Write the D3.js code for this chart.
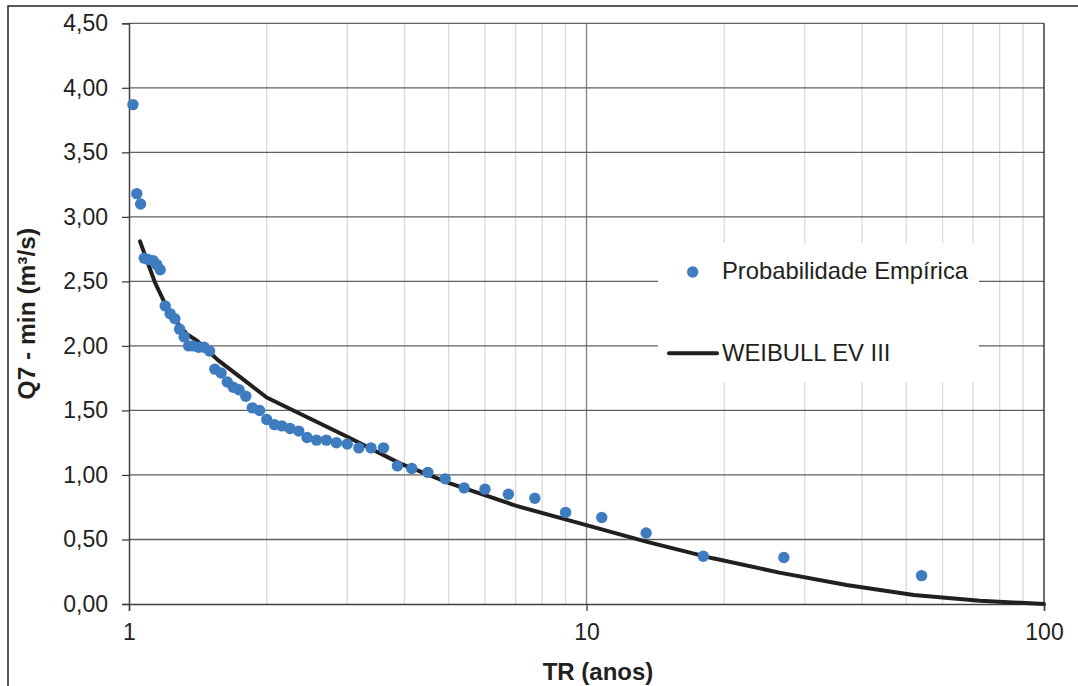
<!DOCTYPE html>
<html>
<head>
<meta charset="utf-8">
<script src="https://cdn.jsdelivr.net/npm/d3@7"></script>
<style>
  body { margin: 0; background: #fff; }
  svg { display: block; font-family: "Liberation Sans", Arial, sans-serif; }
</style>
</head>
<body>
<svg id="chart" width="1078" height="686" viewBox="0 0 1078 686"></svg>
<script>
// empirical points (TR in years, Q7-min in m3/s)
const empTR = [54, 27, 18, 13.5, 10.8, 9, 7.71, 6.75, 6, 5.4, 4.91, 4.5, 4.15, 3.86, 3.6, 3.38, 3.18, 3,
    2.84, 2.7, 2.57, 2.45, 2.35, 2.25, 2.16, 2.08, 2, 1.93, 1.86, 1.8, 1.74, 1.69, 1.64, 1.59, 1.54, 1.5,
    1.46, 1.42, 1.38, 1.35, 1.32, 1.29, 1.26, 1.23, 1.2, 1.17, 1.15, 1.13, 1.1, 1.08, 1.06, 1.04, 1.02];
const empQ = [0.22, 0.36, 0.37, 0.55, 0.67, 0.71, 0.82, 0.85, 0.89, 0.90, 0.97, 1.02, 1.05, 1.07, 1.21, 1.21, 1.21, 1.24,
    1.25, 1.27, 1.27, 1.29, 1.34, 1.36, 1.38, 1.39, 1.43, 1.50, 1.52, 1.61, 1.66, 1.68, 1.72, 1.79, 1.82, 1.96,
    1.99, 1.99, 2.00, 2.00, 2.07, 2.13, 2.21, 2.25, 2.31, 2.59, 2.63, 2.66, 2.67, 2.68, 3.10, 3.18, 3.87];

// fitted Weibull EV III curve
const weibTR = [1.057, 1.095, 1.14, 1.198, 1.26, 1.339, 1.408, 1.48, 1.565, 1.748, 2, 3, 3.91, 5.03, 7.03, 9.68, 13.5, 18.9, 26.4, 37, 51.9, 72.4, 100];
const weibQ = [2.81, 2.66, 2.49, 2.33, 2.20, 2.09, 2.04, 1.97, 1.89, 1.76, 1.60, 1.296, 1.09, 0.935, 0.76, 0.625, 0.483, 0.354, 0.243, 0.147, 0.07, 0.026, 0.0];

const yTicks = [0, 0.5, 1, 1.5, 2, 2.5, 3, 3.5, 4, 4.5];
const xMajor = [1, 10, 100];
const xMinor = [2, 3, 4, 5, 6, 7, 8, 9, 20, 30, 40, 50, 60, 70, 80, 90];

const legendLabels = ["Probabilidade Empírica", "WEIBULL EV III"];

const svg = d3.select("#chart");
const plotLeft = 129, plotRight = 1044, plotTop = 23.3, plotBottom = 604;

const x = d3.scaleLog().domain([1, 100]).range([plotLeft, plotRight]);
const y = d3.scaleLinear().domain([0, 4.5]).range([plotBottom, plotTop]);

const fmt = d3.formatLocale({decimal: ",", thousands: ".", grouping: [3], currency: ["", ""]}).format(".2f");
const ink = "#231f20";
const blue = "#3f7cbf";

// outer frame
svg.append("rect")
    .attr("x", 8).attr("y", 6)
    .attr("width", 1100).attr("height", 700)
    .attr("fill", "none").attr("stroke", ink).attr("stroke-width", 1.5);

// minor vertical grid
svg.append("g").selectAll("line")
    .data(xMinor)
    .enter().append("line")
    .attr("x1", d => x(d)).attr("x2", d => x(d))
    .attr("y1", plotTop).attr("y2", plotBottom)
    .attr("stroke", "#d9d9d9").attr("stroke-width", 1.3);

svg.append("line")
    .attr("x1", x(10)).attr("x2", x(10))
    .attr("y1", plotTop).attr("y2", plotBottom)
    .attr("stroke", "#7f7f7f").attr("stroke-width", 1.3);

// horizontal grid
svg.append("g").selectAll("line")
    .data(yTicks.filter(d => d > 0))
    .enter().append("line")
    .attr("x1", plotLeft).attr("x2", plotRight)
    .attr("y1", d => y(d)).attr("y2", d => y(d))
    .attr("stroke", "#5f5f5f").attr("stroke-width", 1.3);

// legend box (white, hides the grid behind it)
svg.append("rect")
    .attr("x", 658).attr("y", 243)
    .attr("width", 321).attr("height", 139)
    .attr("fill", "#fff");

// plot border on the right
svg.append("line")
    .attr("x1", plotRight).attr("x2", plotRight).attr("y1", plotTop).attr("y2", plotBottom)
    .attr("stroke", ink).attr("stroke-width", 1.3);

// axes
const yAxis = svg.append("g")
    .attr("transform", `translate(${plotLeft},0)`)
    .call(d3.axisLeft(y).tickValues(yTicks).tickFormat(fmt).tickSize(7).tickPadding(14));
const xAxis = svg.append("g")
    .attr("transform", `translate(0,${plotBottom})`)
    .call(d3.axisBottom(x).tickValues(xMajor).tickFormat(d3.format("d")).tickSize(7).tickPadding(13));

[yAxis, xAxis].forEach(a => {
    a.select(".domain").attr("stroke", "#404040").attr("stroke-width", 1.5);
    a.selectAll(".tick line").attr("stroke", "#404040").attr("stroke-width", 1.3);
    a.selectAll(".tick text")
        .attr("fill", ink)
        .attr("font-size", 23)
        .attr("font-family", "Liberation Sans, Arial, sans-serif");
});

// weibull curve
const line = d3.line()
    .x((d, i) => x(weibTR[i]))
    .y(d => y(d));

svg.append("path")
    .datum(weibQ)
    .attr("d", line)
    .attr("fill", "none")
    .attr("stroke", ink)
    .attr("stroke-width", 4)
    .attr("stroke-linejoin", "round")
    .attr("stroke-linecap", "round");

// empirical points
svg.append("g").selectAll("circle")
    .data(empQ)
    .enter().append("circle")
    .attr("cx", (d, i) => x(empTR[i]))
    .attr("cy", d => y(d))
    .attr("r", 5.7)
    .attr("fill", blue);

// legend
const legend = svg.append("g");
legend.append("circle")
    .attr("cx", 692.7).attr("cy", 272)
    .attr("r", 5.7).attr("fill", blue);
legend.append("line")
    .attr("x1", 669).attr("x2", 717)
    .attr("y1", 353.3).attr("y2", 353.3)
    .attr("stroke", ink).attr("stroke-width", 4).attr("stroke-linecap", "round");
legend.selectAll("text")
    .data(legendLabels)
    .enter().append("text")
    .attr("x", 722)
    .attr("y", (d, i) => i === 0 ? 279 : 361)
    .attr("font-size", 23.8)
    .attr("fill", ink)
    .text(d => d);

// axis titles
svg.append("text")
    .attr("x", 598).attr("y", 680)
    .attr("text-anchor", "middle")
    .attr("font-size", 24).attr("font-weight", "bold")
    .attr("fill", ink)
    .text("TR (anos)");

svg.append("text")
    .attr("transform", `translate(35,${(plotTop + plotBottom) / 2}) rotate(-90)`)
    .attr("text-anchor", "middle")
    .attr("font-size", 24.5).attr("font-weight", "bold")
    .attr("fill", ink)
    .text("Q7 - min (m³/s)");
</script>
</body>
</html>
